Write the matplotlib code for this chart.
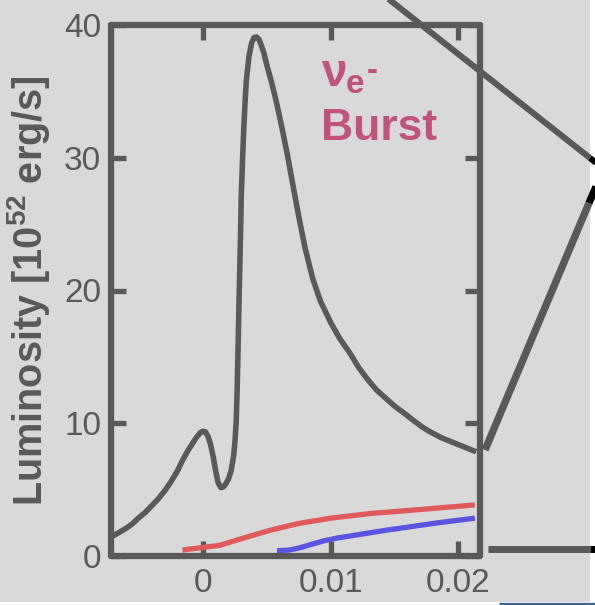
import matplotlib
matplotlib.use("Agg")
import matplotlib.pyplot as plt
from matplotlib.lines import Line2D
from matplotlib.patches import Rectangle

plt.rcParams['font.family'] = ['Liberation Sans', 'DejaVu Sans']
plt.rcParams['mathtext.fontset'] = 'custom'
plt.rcParams['mathtext.rm'] = 'Liberation Sans:bold'
plt.rcParams['mathtext.bf'] = 'Liberation Sans:bold'
plt.rcParams['mathtext.it'] = 'Liberation Sans:bold'

# Neutrino luminosity around core bounce (time in s, L in 1e52 erg/s)
t_nue = [-0.0072, -0.0066, -0.0060, -0.0055, -0.0050, -0.0045, -0.0040, -0.0035,
         -0.0030, -0.0025, -0.0020, -0.0016, -0.0012, -0.0008, -0.0005, -0.0002,
         0.0000, 0.0002, 0.0004, 0.0006, 0.0008, 0.0010, 0.0012, 0.0014,
         0.0016, 0.0018, 0.0020, 0.0022, 0.0024, 0.0025, 0.0026, 0.00268,
         0.00275, 0.0028, 0.00287, 0.00295, 0.0030, 0.0031, 0.0032, 0.0033,
         0.0034, 0.0036, 0.0038, 0.0040, 0.0042, 0.0044, 0.0046, 0.0048,
         0.0050, 0.0054, 0.0058, 0.0062, 0.0066, 0.0070, 0.0075, 0.0080,
         0.0086, 0.0092, 0.0100, 0.0107, 0.0115, 0.0122, 0.0129, 0.0136,
         0.0143, 0.0150, 0.0157, 0.0165, 0.0172, 0.0178, 0.0187, 0.0196,
         0.0205, 0.0214]
L_nue = [1.45, 1.75, 2.1, 2.45, 2.9, 3.3, 3.8, 4.3,
         4.9, 5.6, 6.4, 7.2, 7.9, 8.5, 8.95, 9.3,
         9.4, 9.35, 9.0, 8.4, 7.5, 6.4, 5.5, 5.15,
         5.2, 5.45, 5.8, 6.4, 7.5, 8.5, 10.0, 12.5,
         15.5, 18.0, 21.0, 24.5, 27.0, 29.8, 32.2, 34.2,
         35.8, 37.6, 38.6, 39.05, 39.1, 38.9, 38.4, 37.8,
         37.0, 35.6, 34.0, 32.2, 30.3, 28.2, 25.6, 23.2,
         20.9, 19.2, 17.6, 16.4, 15.3, 14.2, 13.3, 12.5,
         11.9, 11.3, 10.8, 10.2, 9.7, 9.35, 8.9, 8.55,
         8.2, 7.85]

t_anue = [-0.0016, -0.0004, 0.0013, 0.0030, 0.0053, 0.0075, 0.0100, 0.0131,
          0.0170, 0.0213]
L_anue = [0.45, 0.6, 0.8, 1.3, 1.95, 2.45, 2.85, 3.2, 3.5, 3.85]

t_nux = [0.0058, 0.0068, 0.0076, 0.0084, 0.0095, 0.0105, 0.0144, 0.0184, 0.0213]
L_nux = [0.4, 0.45, 0.62, 0.85, 1.15, 1.35, 1.95, 2.5, 2.85]

x_ticks = [0, 0.01, 0.02]
x_ticklabels = ['0', '0.01', '0.02']
y_ticks = [0, 10, 20, 30, 40]

W, H = 595, 605
BG = '#d9d9d9'
INK = '#595959'

fig = plt.figure(figsize=(W / 100, H / 100), dpi=100)
fig.patch.set_facecolor('white')


def fx(px):
    return px / W


def fy(py):
    return 1 - py / H


# shaded panel background
fig.patches.append(Rectangle((0, fy(602)), fx(590), 1 - fy(602),
                             transform=fig.transFigure, facecolor=BG,
                             edgecolor='none', zorder=-10))

ax = fig.add_axes([fx(111), fy(556), fx(480) - fx(111), fy(25) - fy(556)])
ax.set_facecolor(BG)

ax.plot(t_nue, L_nue, color=INK, lw=4.0, solid_capstyle='butt',
        solid_joinstyle='round', zorder=3)
ax.plot(t_anue, L_anue, color='#e05a5a', lw=3.8, solid_capstyle='butt',
        solid_joinstyle='round', zorder=2)
ax.plot(t_nux, L_nux, color='#5a55e0', lw=3.8, solid_capstyle='butt',
        solid_joinstyle='round', zorder=2)

ax.set_xlim(-0.0072, 0.0217)
ax.set_ylim(0, 40)
ax.set_xticks(x_ticks)
ax.set_xticklabels(x_ticklabels)
ax.set_yticks(y_ticks)

for s in ax.spines.values():
    s.set_color(INK)
    s.set_linewidth(4.5)
    s.set_capstyle('round')
    s.set_joinstyle('round')

ax.tick_params(direction='in', length=11, width=3.8, color=INK,
               top=True, right=True, labelsize=24, labelcolor=INK, pad=7)
ax.tick_params(axis='x', pad=9)

ax.set_ylabel('Luminosity [10$^{52}$ erg/s]', fontsize=28.5, fontweight='bold',
              color=INK, labelpad=9)

# burst label
PINK = '#c0527d'
fig.text(fx(321), fy(86), 'ν', fontsize=33, fontweight='bold', color=PINK,
         va='baseline', ha='left')
fig.text(fx(346), fy(93), 'e', fontsize=24, fontweight='bold', color=PINK,
         va='baseline', ha='left')
fig.text(fx(367), fy(80), '-', fontsize=24, fontweight='bold', color=PINK,
         va='baseline', ha='left')
fig.text(fx(321), fy(140), 'Burst', fontsize=32, fontweight='bold', color=PINK,
         va='baseline', ha='left')


def seg(p0, p1, color, lw):
    fig.add_artist(Line2D([fx(p0[0]), fx(p1[0])], [fy(p0[1]), fy(p1[1])],
                          transform=fig.transFigure, color=color, lw=lw,
                          solid_capstyle='butt', zorder=10))


# connector lines towards the neighbouring panel
seg((386, -3), (590, 158), INK, 4.4)
seg((590, 158), (600, 166), 'black', 4.4)
seg((485, 450), (589, 203), INK, 5.3)
seg((589, 203), (598, 182), 'black', 5.3)
seg((488, 548.5), (590, 548.5), INK, 5.0)
seg((590, 548.5), (596, 548.5), 'black', 5.0)
seg((499, 603.5), (596, 603.5), '#3f6591', 2.4)

fig.savefig('out.png', dpi=100, facecolor='white')
